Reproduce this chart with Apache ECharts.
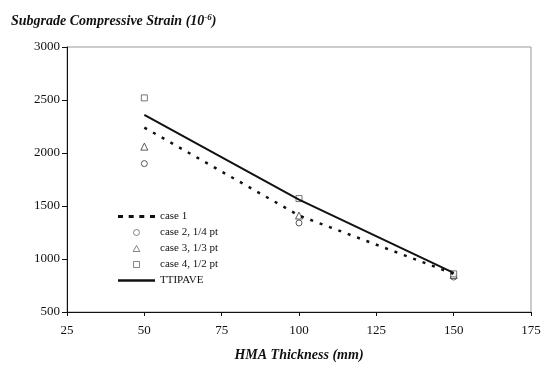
<!DOCTYPE html>
<html>
<head>
<meta charset="utf-8">
<script src="https://cdn.jsdelivr.net/npm/echarts@6/dist/echarts.min.js"></script>
<style>
  html, body { margin: 0; padding: 0; background: #fff; }
  #main { width: 548px; height: 368px; }
</style>
</head>
<body>
<div id="main"></div>
<script>
// HMA thickness (mm)
var thickness = [50, 100, 150];
// strain values (10^-6)
var case1 = [2240, 1410, 860];
var case2 = [1900, 1340, 830];
var case3 = [2060, 1410, 850];
var case4 = [2520, 1570, 860];
var ttipave = [2360, 1560, 870];

var seriesNames = ['case 1', 'case 2, 1/4 pt', 'case 3, 1/3 pt', 'case 4, 1/2 pt', 'TTIPAVE'];

function pairs(vals) {
  return thickness.map(function (t, i) { return [t, vals[i]]; });
}

var serif = '"Liberation Serif", "Times New Roman", serif';
var chart = echarts.init(document.getElementById('main'));

// legend icons (kept centred by symbolKeepAspect)
var dashIcon = 'path://M0,0h5v3h-5z M10.7,0h5v3h-5z M21.3,0h5v3h-5z M32,0h5v3h-5z';
var solidIcon = 'path://M0,0h37v2.5h-37z';
var circleIcon = 'path://M5,0A5,5,0,1,1,4.99,0z';
var triIcon = 'path://M5,0L10,9L0,9z';
var rectIcon = 'path://M0,0h9v9h-9z';
var hollow = { color: '#fff', borderColor: '#444', borderWidth: 0.8 };

var option = {
  backgroundColor: '#fff',
  animation: false,
  title: {
    left: 6,
    top: 8,
    text: '{t|Subgrade Compressive Strain (10}{s|-6}{t|)}',
    textStyle: {
      rich: {
        t: { fontFamily: serif, fontSize: 14, fontWeight: 'bold', fontStyle: 'italic', color: '#111' },
        s: { fontFamily: serif, fontSize: 9, fontWeight: 'bold', fontStyle: 'italic', color: '#111', verticalAlign: 'top', padding: [0, 0, 7, 0] }
      }
    }
  },
  grid: {
    left: 67, right: 17, top: 47, bottom: 56,
    show: true,
    borderColor: '#999',
    borderWidth: 1,
    backgroundColor: 'transparent'
  },
  legend: {
    orient: 'vertical',
    left: 113,
    top: 206,
    itemWidth: 37,
    itemHeight: 6,
    itemGap: 5,
    symbolKeepAspect: true,
    data: [
      { name: seriesNames[0], icon: dashIcon },
      { name: seriesNames[1], icon: circleIcon, itemStyle: hollow },
      { name: seriesNames[2], icon: triIcon, itemStyle: hollow },
      { name: seriesNames[3], icon: rectIcon, itemStyle: hollow },
      { name: seriesNames[4], icon: solidIcon }
    ],
    textStyle: { fontFamily: serif, fontSize: 11, color: '#111' }
  },
  xAxis: {
    type: 'value',
    min: 25, max: 175, interval: 25,
    name: 'HMA Thickness (mm)',
    nameLocation: 'middle',
    nameGap: 36,
    nameTextStyle: { fontFamily: serif, fontSize: 14, fontWeight: 'bold', fontStyle: 'italic', color: '#111' },
    axisLine: { lineStyle: { color: '#111', width: 1 } },
    axisTick: { show: true, length: 4, lineStyle: { color: '#111' } },
    axisLabel: { fontFamily: serif, fontSize: 13, color: '#111', margin: 12 },
    splitLine: { show: false }
  },
  yAxis: {
    type: 'value',
    min: 500, max: 3000, interval: 500,
    axisLine: { show: true, lineStyle: { color: '#111', width: 1 } },
    axisTick: { show: true, length: 5, lineStyle: { color: '#111' } },
    axisLabel: {
      fontFamily: serif, fontSize: 13, color: '#111', margin: 7,
      formatter: function (v) { return String(v); }
    },
    splitLine: { show: false }
  },
  series: [
    {
      name: seriesNames[0], type: 'line', data: pairs(case1),
      symbol: 'none',
      lineStyle: { color: '#111', width: 2.5, type: [3, 7] },
      itemStyle: { color: '#111' }
    },
    {
      name: seriesNames[1], type: 'scatter', data: pairs(case2),
      symbol: 'circle', symbolSize: 6,
      itemStyle: { color: '#fff', borderColor: '#333', borderWidth: 1 }
    },
    {
      name: seriesNames[2], type: 'scatter', data: pairs(case3),
      symbol: 'triangle', symbolSize: 7,
      itemStyle: { color: '#fff', borderColor: '#333', borderWidth: 1 }
    },
    {
      name: seriesNames[3], type: 'scatter', data: pairs(case4),
      symbol: 'rect', symbolSize: 6,
      itemStyle: { color: '#fff', borderColor: '#555', borderWidth: 1 }
    },
    {
      name: seriesNames[4], type: 'line', data: pairs(ttipave),
      symbol: 'none',
      lineStyle: { color: '#111', width: 2 },
      itemStyle: { color: '#111' }
    }
  ]
};

chart.setOption(option);
</script>
</body>
</html>
